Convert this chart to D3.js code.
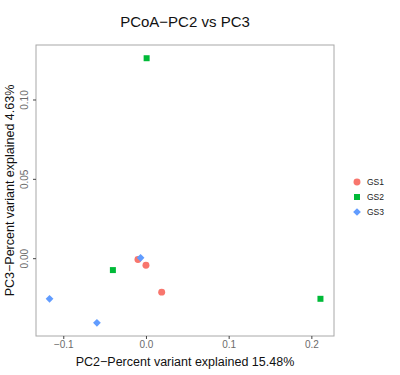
<!DOCTYPE html>
<html>
<head>
<meta charset="utf-8">
<script src="https://cdn.jsdelivr.net/npm/d3@7"></script>
<style>
  body { margin: 0; background: #fff; }
  text { font-family: "Liberation Sans", Arial, sans-serif; }
</style>
</head>
<body>
<div id="chart"></div>
<script>
// sample groups and their PCoA coordinates
var groups = ["GS1", "GS2", "GS3"];
var groupColors = ["#F8766D", "#00BA38", "#619CFF"];

var pc2 = [-0.0097, 0.0, 0.019, 0.0008, -0.040, 0.211, -0.0065, -0.1166, -0.0593];
var pc3 = [-0.0008, -0.0044, -0.0214, 0.126, -0.0075, -0.0256, 0.0002, -0.0256, -0.0407];
var sampleGroup = ["GS1", "GS1", "GS1", "GS2", "GS2", "GS2", "GS3", "GS3", "GS3"];

var xTicks = [-0.1, 0.0, 0.1, 0.2];
var yTicks = [0.00, 0.05, 0.10];

var width = 400, height = 375;
var panel = { left: 36, right: 334, top: 45, bottom: 336 };

var svg = d3.select("#chart").append("svg")
  .attr("width", width)
  .attr("height", height);

var points = pc2.map(function(d, i) {
  return { x: d, y: pc3[i], g: sampleGroup[i] };
});

// ggplot-style 5% expansion
function expand(ext) {
  var pad = (ext[1] - ext[0]) * 0.05;
  return [ext[0] - pad, ext[1] + pad];
}

var x = d3.scaleLinear()
  .domain(expand(d3.extent(pc2)))
  .range([panel.left, panel.right]);

var y = d3.scaleLinear()
  .domain(expand(d3.extent(pc3)))
  .range([panel.bottom, panel.top]);

var color = d3.scaleOrdinal().domain(groups).range(groupColors);
// shape 18 in ggplot is a square turned 45 degrees
var shape = d3.scaleOrdinal().domain(groups)
  .range([d3.symbolCircle, d3.symbolSquare, d3.symbolSquare]);
var size = d3.scaleOrdinal().domain(groups).range([38, 36, 30]);
var turn = d3.scaleOrdinal().domain(groups).range([0, 0, 45]);

// panel border
svg.append("rect")
  .attr("x", panel.left)
  .attr("y", panel.top)
  .attr("width", panel.right - panel.left)
  .attr("height", panel.bottom - panel.top)
  .attr("fill", "none")
  .attr("stroke", "#a8a8a8")
  .attr("stroke-width", 1);

// axes
var xAxis = svg.append("g")
  .attr("transform", "translate(0," + panel.bottom + ")")
  .call(d3.axisBottom(x).tickValues(xTicks).tickSize(3).tickPadding(2).tickFormat(d3.format(".1f")));
xAxis.select(".domain").remove();
xAxis.selectAll("line").attr("stroke", "#444");
xAxis.selectAll("text")
  .attr("fill", "#6b6b6b")
  .style("font-size", "10px")
  .text(function(d) { return d3.format(".1f")(d).replace("-", "\u2212"); });

var yAxis = svg.append("g")
  .attr("transform", "translate(" + panel.left + ",0)")
  .call(d3.axisLeft(y).tickValues(yTicks).tickSize(3).tickFormat(d3.format(".2f")));
yAxis.select(".domain").remove();
yAxis.selectAll("line").attr("stroke", "#444");
yAxis.selectAll("text")
  .attr("fill", "#6b6b6b")
  .style("font-size", "10px")
  .attr("text-anchor", "middle")
  .attr("x", 0)
  .attr("dy", 0)
  .attr("transform", "translate(-8,0) rotate(-90)");

// points
svg.append("g").selectAll("path")
  .data(points)
  .join("path")
    .attr("transform", function(d) {
      return "translate(" + x(d.x) + "," + y(d.y) + ") rotate(" + turn(d.g) + ")";
    })
    .attr("d", function(d) { return d3.symbol().type(shape(d.g)).size(size(d.g))(); })
    .attr("fill", function(d) { return color(d.g); });

// titles
svg.append("text")
  .attr("x", (panel.left + panel.right) / 2)
  .attr("y", 27)
  .attr("text-anchor", "middle")
  .style("font-size", "15px")
  .attr("fill", "#111")
  .text("PCoA\u2212PC2 vs PC3");

svg.append("text")
  .attr("x", (panel.left + panel.right) / 2)
  .attr("y", 366)
  .attr("text-anchor", "middle")
  .style("font-size", "12.5px")
  .attr("fill", "#111")
  .text("PC2\u2212Percent variant explained 15.48%");

svg.append("text")
  .attr("transform", "translate(14," + ((panel.top + panel.bottom) / 2) + ") rotate(-90)")
  .attr("text-anchor", "middle")
  .style("font-size", "12.5px")
  .attr("fill", "#111")
  .text("PC3\u2212Percent variant explained 4.63%");

// legend
var legend = svg.append("g").attr("transform", "translate(357,182)");
var item = legend.selectAll("g")
  .data(groups)
  .join("g")
    .attr("transform", function(d, i) { return "translate(0," + (i * 15) + ")"; });
item.append("path")
  .attr("transform", function(d) { return "rotate(" + turn(d) + ")"; })
  .attr("d", function(d) { return d3.symbol().type(shape(d)).size(size(d))(); })
  .attr("fill", function(d) { return color(d); });
item.append("text")
  .attr("x", 10)
  .attr("dy", "0.35em")
  .style("font-size", "8.5px")
  .attr("fill", "#222")
  .text(function(d) { return d; });
</script>
</body>
</html>
